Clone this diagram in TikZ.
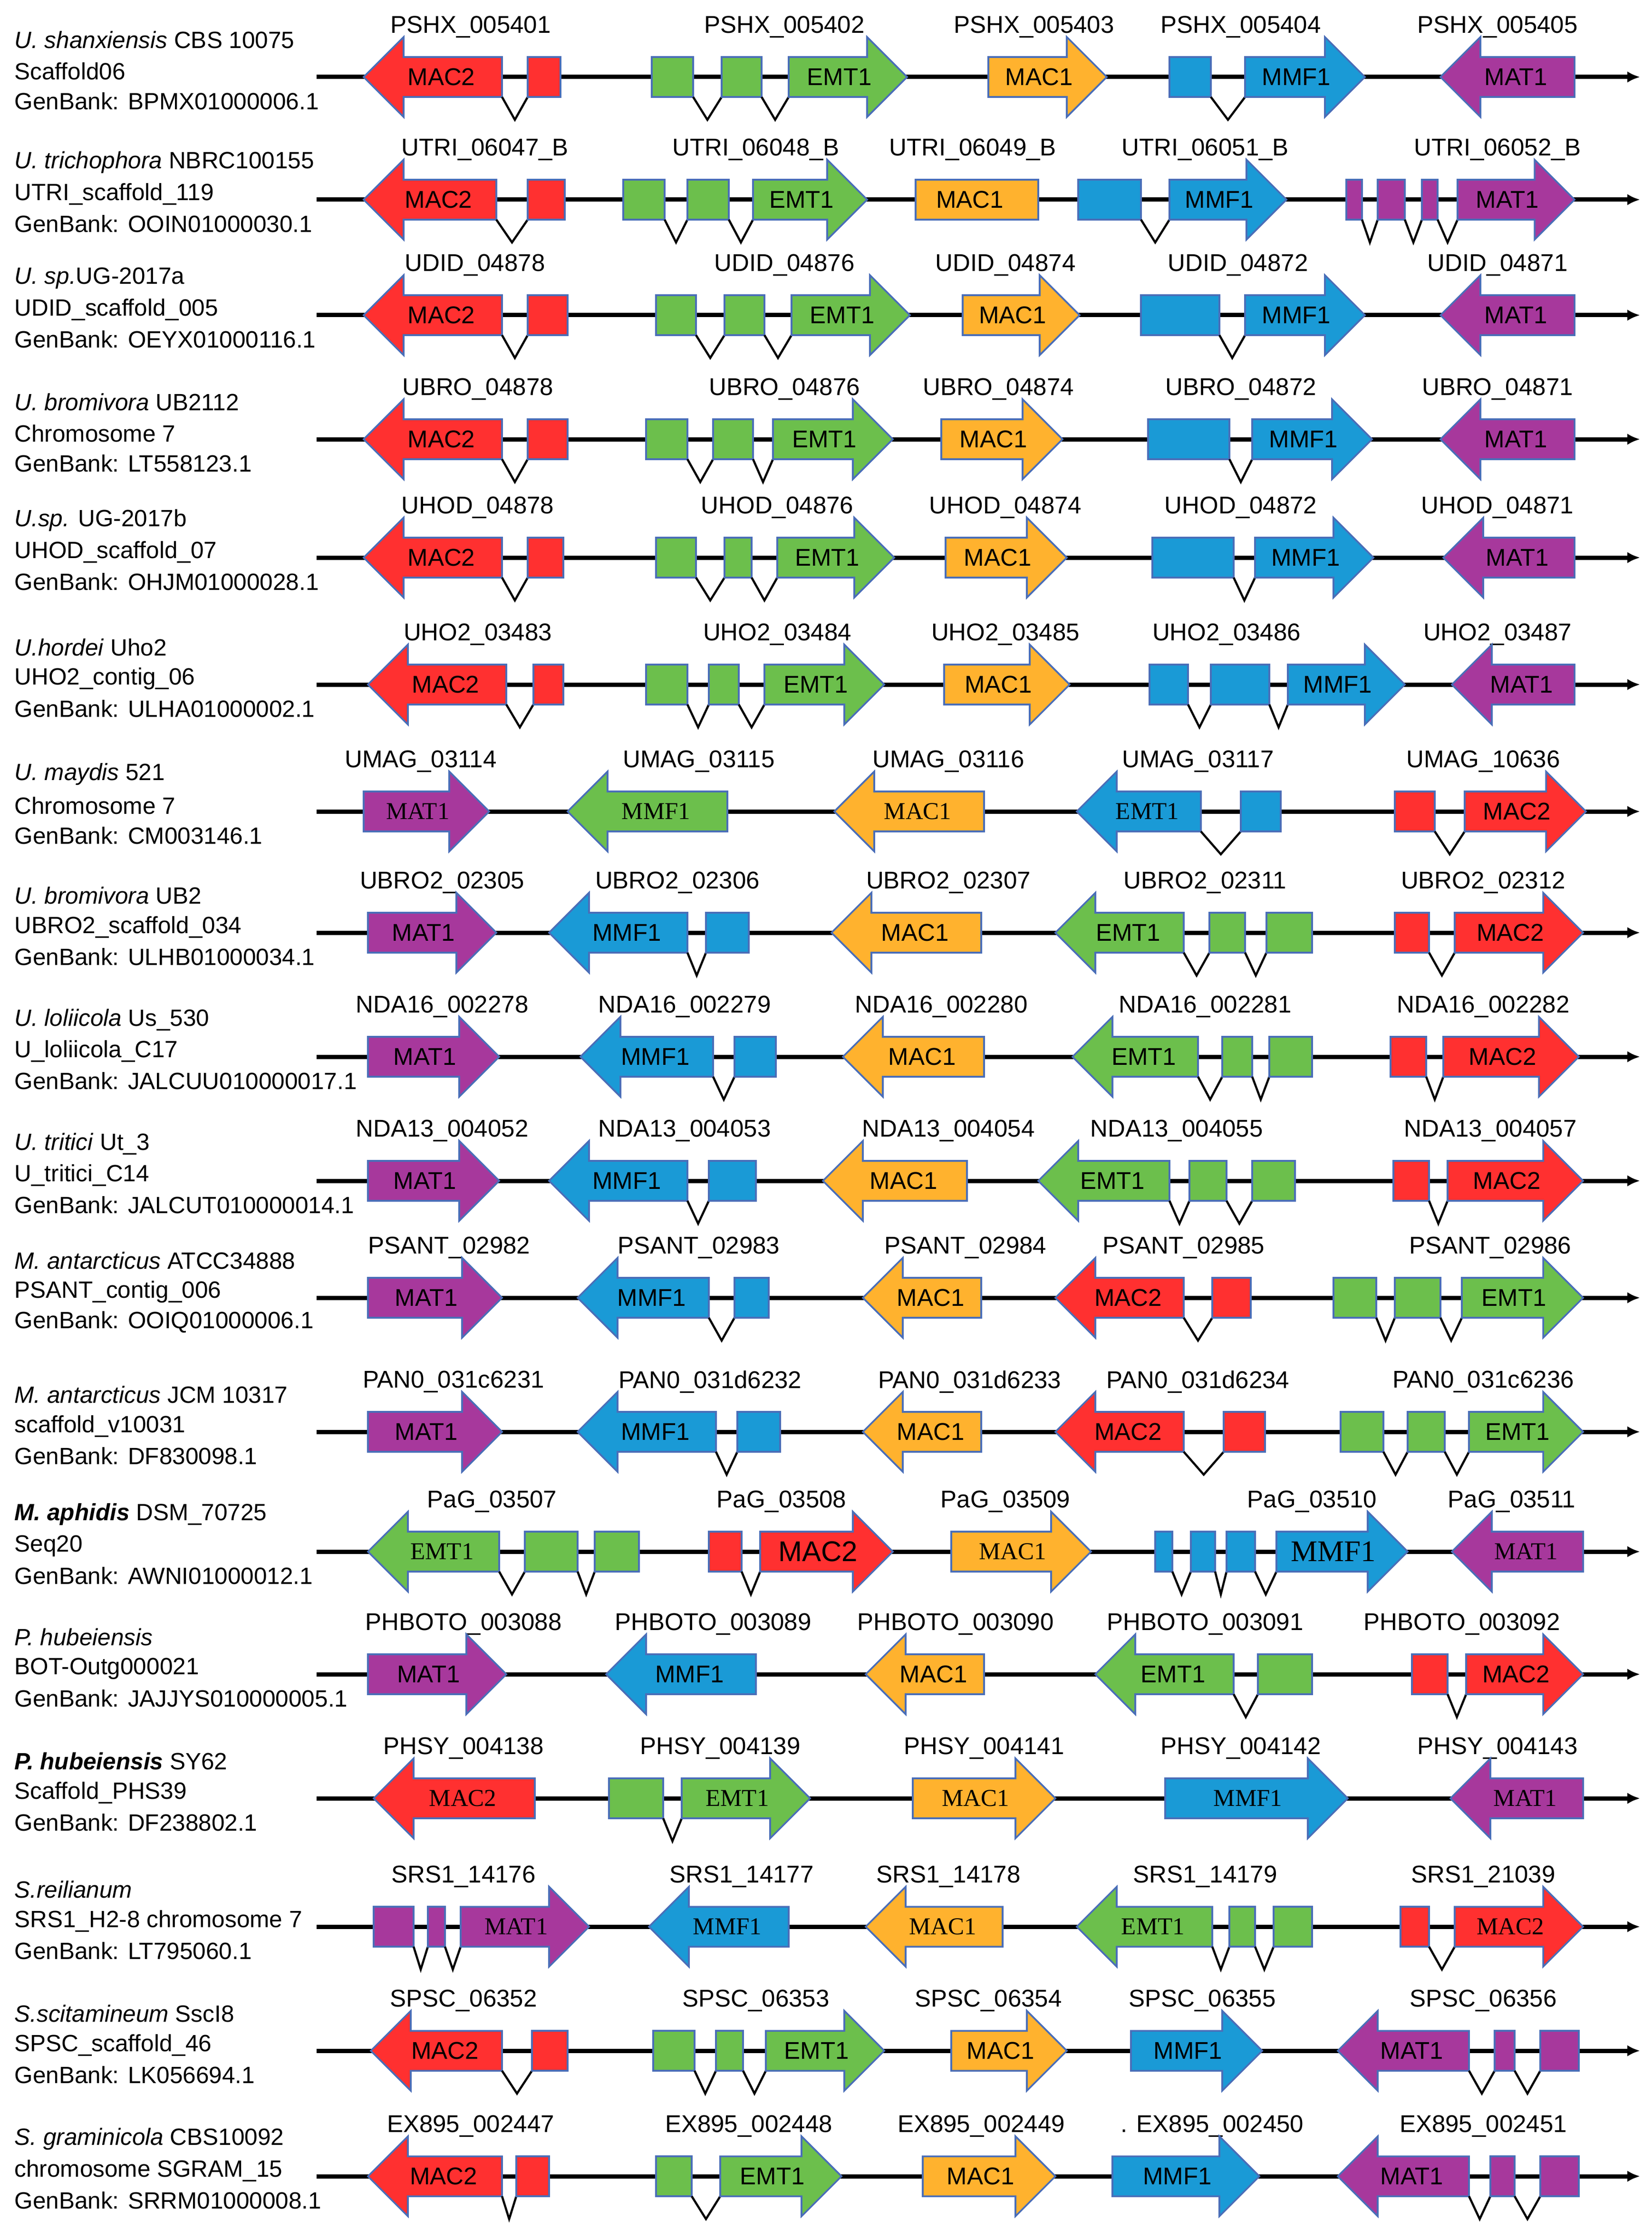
\documentclass[tikz,border=0pt]{standalone}
\usepackage{fontspec}
\setmainfont{Liberation Sans}
\newfontfamily\sr{Liberation Serif}
\usetikzlibrary{arrows.meta}
\definecolor{cR}{HTML}{FF3030}
\definecolor{cG}{HTML}{6CBF4C}
\definecolor{cO}{HTML}{FFB22E}
\definecolor{cB}{HTML}{1A9AD6}
\definecolor{cP}{HTML}{A7389C}
\definecolor{edgec}{HTML}{4A6EB8}
\tikzset{glab/.style={font=\fontsize{17}{18}\selectfont, inner sep=0pt},
 idlab/.style={font=\fontsize{17}{18}\selectfont, inner sep=0pt},
 sp/.style={font=\fontsize{16.5}{18}\selectfont, anchor=west, inner sep=0pt},
 backbone/.style={line width=3pt, -{Latex[length=9pt,width=8pt]}},
 shp/.style={draw=edgec, line width=1.2pt},
 intr/.style={line width=1.5pt, black}}
\newcommand\gR[5]{\filldraw[shp,fill=#4] (#1,#3-14) -- (#2-28,#3-14) -- (#2-28,#3-28) -- (#2,#3) -- (#2-28,#3+28) -- (#2-28,#3+14) -- (#1,#3+14) -- cycle;
 \node[glab] at ({(#1+#2-12)/2},#3) {#5};}
\newcommand\gL[5]{\filldraw[shp,fill=#4] (#2,#3-14) -- (#1+28,#3-14) -- (#1+28,#3-28) -- (#1,#3) -- (#1+28,#3+28) -- (#1+28,#3+14) -- (#2,#3+14) -- cycle;
 \node[glab] at ({(#1+#2+12)/2},#3) {#5};}
\newcommand\gB[4]{\filldraw[shp,fill=#4] (#1,#3-14) rectangle (#2,#3+14);}
\newcommand\gI[3]{\draw[intr] (#1,#3+14) -- ({(#1+#2)/2},#3+30) -- (#2,#3+14);}
\newcommand\row[4]{\draw[backbone] (222,#1) -- (1150,#1);
 \node[sp] at (10,#1-26) {#2}; \node[sp] at (10,#1-4) {#3}; \node[sp] at (10,#1+17) {#4};}
\newcommand\idn[3]{\node[idlab] at (#2,#1-35) {#3};}
\begin{document}
\begin{tikzpicture}[x=1pt,y=-1pt]
\useasboundingbox (0,0) rectangle (1158.3,1570);
% Row 1
\def\Y{54}
\row{\Y}{\textit{U. shanxiensis} CBS 10075}{Scaffold06}{GenBank: BPMX01000006.1}
\idn{\Y}{330}{PSHX\_005401}\idn{\Y}{550}{PSHX\_005402}\idn{\Y}{725}{PSHX\_005403}\idn{\Y}{870}{PSHX\_005404}\idn{\Y}{1050}{PSHX\_005405}
\gL{255}{352}{\Y}{cR}{MAC2}\gI{352}{370}{\Y}\gB{370}{393}{\Y}{cR}
\gB{457}{486}{\Y}{cG}\gI{486}{506}{\Y}\gB{506}{534}{\Y}{cG}\gI{534}{553}{\Y}\gR{553}{636}{\Y}{cG}{EMT1}
\gR{693}{776}{\Y}{cO}{MAC1}
\gB{820}{849}{\Y}{cB}\gI{849}{873}{\Y}\gR{873}{957}{\Y}{cB}{MMF1}
\gL{1010}{1104}{\Y}{cP}{MAT1}
% Row 2
\def\Y{140}
\row{\Y}{\textit{U. trichophora} NBRC100155}{UTRI\_scaffold\_119}{GenBank: OOIN01000030.1}
\idn{\Y}{340}{UTRI\_06047\_B}\idn{\Y}{530}{UTRI\_06048\_B}\idn{\Y}{682}{UTRI\_06049\_B}\idn{\Y}{845}{UTRI\_06051\_B}\idn{\Y}{1050}{UTRI\_06052\_B}
\gL{255}{348}{\Y}{cR}{MAC2}\gI{348}{370}{\Y}\gB{370}{396}{\Y}{cR}
\gB{437}{466}{\Y}{cG}\gI{466}{482}{\Y}\gB{482}{511}{\Y}{cG}\gI{511}{528}{\Y}\gR{528}{608}{\Y}{cG}{EMT1}
\gB{642}{728}{\Y}{cO}\node[glab] at (680,\Y) {MAC1};
\gB{756}{800}{\Y}{cB}\gI{800}{820}{\Y}\gR{820}{902}{\Y}{cB}{MMF1}
\gB{944}{955}{\Y}{cP}\gI{955}{966}{\Y}\gB{966}{985}{\Y}{cP}\gI{985}{997}{\Y}\gB{997}{1008}{\Y}{cP}\gI{1008}{1022}{\Y}\gR{1022}{1104}{\Y}{cP}{MAT1}
% Row 3
\def\Y{221}
\row{\Y}{\textit{U. sp.}UG-2017a}{UDID\_scaffold\_005}{GenBank: OEYX01000116.1}
\idn{\Y}{333}{UDID\_04878}\idn{\Y}{550}{UDID\_04876}\idn{\Y}{705}{UDID\_04874}\idn{\Y}{868}{UDID\_04872}\idn{\Y}{1050}{UDID\_04871}
\gL{255}{352}{\Y}{cR}{MAC2}\gI{352}{370}{\Y}\gB{370}{398}{\Y}{cR}
\gB{460}{488}{\Y}{cG}\gI{488}{508}{\Y}\gB{508}{536}{\Y}{cG}\gI{536}{555}{\Y}\gR{555}{638}{\Y}{cG}{EMT1}
\gR{675}{757}{\Y}{cO}{MAC1}
\gB{800}{855}{\Y}{cB}\gI{855}{873}{\Y}\gR{873}{957}{\Y}{cB}{MMF1}
\gL{1010}{1104}{\Y}{cP}{MAT1}
% Row 4
\def\Y{308}
\row{\Y}{\textit{U. bromivora} UB2112}{Chromosome 7}{GenBank: LT558123.1}
\idn{\Y}{335}{UBRO\_04878}\idn{\Y}{550}{UBRO\_04876}\idn{\Y}{700}{UBRO\_04874}\idn{\Y}{870}{UBRO\_04872}\idn{\Y}{1050}{UBRO\_04871}
\gL{255}{352}{\Y}{cR}{MAC2}\gI{352}{370}{\Y}\gB{370}{398}{\Y}{cR}
\gB{453}{482}{\Y}{cG}\gI{482}{500}{\Y}\gB{500}{528}{\Y}{cG}\gI{528}{542}{\Y}\gR{542}{626}{\Y}{cG}{EMT1}
\gR{660}{745}{\Y}{cO}{MAC1}
\gB{805}{862}{\Y}{cB}\gI{862}{878}{\Y}\gR{878}{962}{\Y}{cB}{MMF1}
\gL{1010}{1104}{\Y}{cP}{MAT1}
% Row 5
\def\Y{391}
\row{\Y}{\textit{U.sp.} UG-2017b}{UHOD\_scaffold\_07}{GenBank: OHJM01000028.1}
\idn{\Y}{335}{UHOD\_04878}\idn{\Y}{545}{UHOD\_04876}\idn{\Y}{705}{UHOD\_04874}\idn{\Y}{870}{UHOD\_04872}\idn{\Y}{1050}{UHOD\_04871}
\gL{255}{352}{\Y}{cR}{MAC2}\gI{352}{370}{\Y}\gB{370}{395}{\Y}{cR}
\gB{460}{488}{\Y}{cG}\gI{488}{508}{\Y}\gB{508}{527}{\Y}{cG}\gI{527}{545}{\Y}\gR{545}{627}{\Y}{cG}{EMT1}
\gR{663}{748}{\Y}{cO}{MAC1}
\gB{808}{865}{\Y}{cB}\gI{865}{880}{\Y}\gR{880}{963}{\Y}{cB}{MMF1}
\gL{1012}{1104}{\Y}{cP}{MAT1}
% Row 6
\def\Y{480}
\row{\Y}{\textit{U.hordei} Uho2}{UHO2\_contig\_06}{GenBank: ULHA01000002.1}
\idn{\Y}{335}{UHO2\_03483}\idn{\Y}{545}{UHO2\_03484}\idn{\Y}{705}{UHO2\_03485}\idn{\Y}{860}{UHO2\_03486}\idn{\Y}{1050}{UHO2\_03487}
\gL{258}{355}{\Y}{cR}{MAC2}\gI{355}{374}{\Y}\gB{374}{395}{\Y}{cR}
\gB{453}{482}{\Y}{cG}\gI{482}{497}{\Y}\gB{497}{518}{\Y}{cG}\gI{518}{536}{\Y}\gR{536}{620}{\Y}{cG}{EMT1}
\gR{662}{750}{\Y}{cO}{MAC1}
\gB{806}{833}{\Y}{cB}\gI{833}{849}{\Y}\gB{849}{890}{\Y}{cB}\gI{890}{903}{\Y}\gR{903}{985}{\Y}{cB}{MMF1}
\gL{1018}{1104}{\Y}{cP}{MAT1}
% Row 7
\def\Y{569}
\row{\Y}{\textit{U. maydis} 521}{Chromosome 7}{GenBank: CM003146.1}
\idn{\Y}{295}{UMAG\_03114}\idn{\Y}{490}{UMAG\_03115}\idn{\Y}{665}{UMAG\_03116}\idn{\Y}{840}{UMAG\_03117}\idn{\Y}{1040}{UMAG\_10636}
\gR{255}{343}{\Y}{cP}{\sr MAT1}
\gL{398}{510}{\Y}{cG}{\sr MMF1}
\gL{585}{690}{\Y}{cO}{\sr MAC1}
\gL{755}{842}{\Y}{cB}{\sr EMT1}\gI{842}{870}{\Y}\gB{870}{898}{\Y}{cB}
\gB{978}{1006}{\Y}{cR}\gI{1006}{1027}{\Y}\gR{1027}{1112}{\Y}{cR}{MAC2}
% Row 8
\def\Y{654}
\row{\Y}{\textit{U. bromivora} UB2}{UBRO2\_scaffold\_034}{GenBank: ULHB01000034.1}
\idn{\Y}{310}{UBRO2\_02305}\idn{\Y}{475}{UBRO2\_02306}\idn{\Y}{665}{UBRO2\_02307}\idn{\Y}{845}{UBRO2\_02311}\idn{\Y}{1040}{UBRO2\_02312}
\gR{258}{348}{\Y}{cP}{MAT1}
\gL{385}{482}{\Y}{cB}{MMF1}\gI{482}{495}{\Y}\gB{495}{525}{\Y}{cB}
\gL{583}{688}{\Y}{cO}{MAC1}
\gL{740}{830}{\Y}{cG}{EMT1}\gI{830}{848}{\Y}\gB{848}{873}{\Y}{cG}\gI{873}{888}{\Y}\gB{888}{920}{\Y}{cG}
\gB{978}{1002}{\Y}{cR}\gI{1002}{1020}{\Y}\gR{1020}{1110}{\Y}{cR}{MAC2}
% Row 9
\def\Y{741}
\row{\Y}{\textit{U. loliicola} Us\_530}{U\_loliicola\_C17}{GenBank: JALCUU010000017.1}
\idn{\Y}{310}{NDA16\_002278}\idn{\Y}{480}{NDA16\_002279}\idn{\Y}{660}{NDA16\_002280}\idn{\Y}{845}{NDA16\_002281}\idn{\Y}{1040}{NDA16\_002282}
\gR{258}{350}{\Y}{cP}{MAT1}
\gL{407}{500}{\Y}{cB}{MMF1}\gI{500}{515}{\Y}\gB{515}{544}{\Y}{cB}
\gL{591}{690}{\Y}{cO}{MAC1}
\gL{752}{840}{\Y}{cG}{EMT1}\gI{840}{857}{\Y}\gB{857}{878}{\Y}{cG}\gI{878}{890}{\Y}\gB{890}{920}{\Y}{cG}
\gB{975}{1000}{\Y}{cR}\gI{1000}{1012}{\Y}\gR{1012}{1107}{\Y}{cR}{MAC2}
% Row 10
\def\Y{828}
\row{\Y}{\textit{U. tritici} Ut\_3}{U\_tritici\_C14}{GenBank: JALCUT010000014.1}
\idn{\Y}{310}{NDA13\_004052}\idn{\Y}{480}{NDA13\_004053}\idn{\Y}{665}{NDA13\_004054}\idn{\Y}{825}{NDA13\_004055}\idn{\Y}{1045}{NDA13\_004057}
\gR{258}{350}{\Y}{cP}{MAT1}
\gL{385}{482}{\Y}{cB}{MMF1}\gI{482}{497}{\Y}\gB{497}{530}{\Y}{cB}
\gL{577}{678}{\Y}{cO}{MAC1}
\gL{728}{820}{\Y}{cG}{EMT1}\gI{820}{834}{\Y}\gB{834}{860}{\Y}{cG}\gI{860}{878}{\Y}\gB{878}{908}{\Y}{cG}
\gB{977}{1002}{\Y}{cR}\gI{1002}{1015}{\Y}\gR{1015}{1110}{\Y}{cR}{MAC2}
% Row 11
\def\Y{910}
\row{\Y}{\textit{M. antarcticus} ATCC34888}{PSANT\_contig\_006}{GenBank: OOIQ01000006.1}
\idn{\Y}{315}{PSANT\_02982}\idn{\Y}{490}{PSANT\_02983}\idn{\Y}{677}{PSANT\_02984}\idn{\Y}{830}{PSANT\_02985}\idn{\Y}{1045}{PSANT\_02986}
\gR{258}{352}{\Y}{cP}{MAT1}
\gL{405}{497}{\Y}{cB}{MMF1}\gI{497}{515}{\Y}\gB{515}{539}{\Y}{cB}
\gL{605}{688}{\Y}{cO}{MAC1}
\gL{740}{830}{\Y}{cR}{MAC2}\gI{830}{850}{\Y}\gB{850}{877}{\Y}{cR}
\gB{935}{965}{\Y}{cG}\gI{965}{978}{\Y}\gB{978}{1010}{\Y}{cG}\gI{1010}{1025}{\Y}\gR{1025}{1110}{\Y}{cG}{EMT1}
% Row 12
\def\Y{1004}
\row{\Y}{\textit{M. antarcticus} JCM 10317}{scaffold\_v10031}{GenBank: DF830098.1}
\idn{\Y}{318}{PAN0\_031c6231}\idn{\Y}{498}{PAN0\_031d6232}\idn{\Y}{680}{PAN0\_031d6233}\idn{\Y}{840}{PAN0\_031d6234}\idn{\Y}{1040}{PAN0\_031c6236}
\gR{258}{352}{\Y}{cP}{MAT1}
\gL{405}{502}{\Y}{cB}{MMF1}\gI{502}{517}{\Y}\gB{517}{547}{\Y}{cB}
\gL{605}{688}{\Y}{cO}{MAC1}
\gL{740}{830}{\Y}{cR}{MAC2}\gI{830}{858}{\Y}\gB{858}{887}{\Y}{cR}
\gB{940}{970}{\Y}{cG}\gI{970}{987}{\Y}\gB{987}{1013}{\Y}{cG}\gI{1013}{1030}{\Y}\gR{1030}{1110}{\Y}{cG}{EMT1}
% Row 13
\def\Y{1088}
\row{\Y}{\textbf{\textit{M. aphidis}} DSM\_70725}{Seq20}{GenBank: AWNI01000012.1}
\idn{\Y}{345}{PaG\_03507}\idn{\Y}{548}{PaG\_03508}\idn{\Y}{705}{PaG\_03509}\idn{\Y}{920}{PaG\_03510}\idn{\Y}{1060}{PaG\_03511}
\gL{258}{350}{\Y}{cG}{\sr EMT1}\gI{350}{368}{\Y}\gB{368}{405}{\Y}{cG}\gI{405}{417}{\Y}\gB{417}{448}{\Y}{cG}
\gB{497}{520}{\Y}{cR}\gI{520}{533}{\Y}\gR{533}{626}{\Y}{cR}{\fontsize{20}{22}\selectfont MAC2}
\gR{667}{765}{\Y}{cO}{\sr MAC1}
\gB{810}{822}{\Y}{cB}\gI{822}{835}{\Y}\gB{835}{852}{\Y}{cB}\gI{852}{860}{\Y}\gB{860}{880}{\Y}{cB}\gI{880}{895}{\Y}\gR{895}{987}{\Y}{cB}{\sr\fontsize{21}{22}\selectfont MMF1}
\gL{1018}{1110}{\Y}{cP}{\sr MAT1}
% Row 14
\def\Y{1174}
\row{\Y}{\textit{P. hubeiensis}}{BOT-Outg000021}{GenBank: JAJJYS010000005.1}
\idn{\Y}{325}{PHBOTO\_003088}\idn{\Y}{500}{PHBOTO\_003089}\idn{\Y}{670}{PHBOTO\_003090}\idn{\Y}{845}{PHBOTO\_003091}\idn{\Y}{1025}{PHBOTO\_003092}
\gR{258}{355}{\Y}{cP}{MAT1}
\gL{425}{530}{\Y}{cB}{MMF1}
\gL{607}{690}{\Y}{cO}{MAC1}
\gL{768}{865}{\Y}{cG}{EMT1}\gI{865}{882}{\Y}\gB{882}{920}{\Y}{cG}
\gB{990}{1015}{\Y}{cR}\gI{1015}{1028}{\Y}\gR{1028}{1110}{\Y}{cR}{MAC2}
% Row 15
\def\Y{1261}
\row{\Y}{\textbf{\textit{P. hubeiensis}} SY62}{Scaffold\_PHS39}{GenBank: DF238802.1}
\idn{\Y}{325}{PHSY\_004138}\idn{\Y}{505}{PHSY\_004139}\idn{\Y}{690}{PHSY\_004141}\idn{\Y}{870}{PHSY\_004142}\idn{\Y}{1050}{PHSY\_004143}
\gL{262}{375}{\Y}{cR}{\sr MAC2}
\gB{427}{465}{\Y}{cG}\gI{465}{478}{\Y}\gR{478}{568}{\Y}{cG}{\sr EMT1}
\gR{640}{740}{\Y}{cO}{\sr MAC1}
\gR{817}{945}{\Y}{cB}{\sr MMF1}
\gL{1017}{1110}{\Y}{cP}{\sr MAT1}
% Row 16
\def\Y{1351}
\row{\Y}{\textit{S.reilianum}}{SRS1\_H2-8 chromosome 7}{GenBank: LT795060.1}
\idn{\Y}{325}{SRS1\_14176}\idn{\Y}{520}{SRS1\_14177}\idn{\Y}{665}{SRS1\_14178}\idn{\Y}{845}{SRS1\_14179}\idn{\Y}{1040}{SRS1\_21039}
\gB{262}{290}{\Y}{cP}\gI{290}{300}{\Y}\gB{300}{312}{\Y}{cP}\gI{312}{323}{\Y}\gR{323}{413}{\Y}{cP}{\sr MAT1}
\gL{455}{553}{\Y}{cB}{\sr MMF1}
\gL{607}{703}{\Y}{cO}{\sr MAC1}
\gL{755}{850}{\Y}{cG}{\sr EMT1}\gI{850}{862}{\Y}\gB{862}{880}{\Y}{cG}\gI{880}{893}{\Y}\gB{893}{920}{\Y}{cG}
\gB{982}{1002}{\Y}{cR}\gI{1002}{1020}{\Y}\gR{1020}{1110}{\Y}{cR}{\sr MAC2}
% Row 17
\def\Y{1438}
\row{\Y}{\textit{S.scitamineum} SscI8}{SPSC\_scaffold\_46}{GenBank: LK056694.1}
\idn{\Y}{325}{SPSC\_06352}\idn{\Y}{530}{SPSC\_06353}\idn{\Y}{693}{SPSC\_06354}\idn{\Y}{843}{SPSC\_06355}\idn{\Y}{1040}{SPSC\_06356}
\gL{260}{352}{\Y}{cR}{MAC2}\gI{352}{373}{\Y}\gB{373}{398}{\Y}{cR}
\gB{458}{487}{\Y}{cG}\gI{487}{502}{\Y}\gB{502}{521}{\Y}{cG}\gI{521}{537}{\Y}\gR{537}{620}{\Y}{cG}{EMT1}
\gR{667}{748}{\Y}{cO}{MAC1}
\gR{793}{885}{\Y}{cB}{MMF1}
\gL{938}{1030}{\Y}{cP}{MAT1}\gI{1030}{1048}{\Y}\gB{1048}{1062}{\Y}{cP}\gI{1062}{1080}{\Y}\gB{1080}{1107}{\Y}{cP}
% Row 18
\def\Y{1526}
\row{\Y}{\textit{S. graminicola} CBS10092}{chromosome SGRAM\_15}{GenBank: SRRM01000008.1}
\idn{\Y}{330}{EX895\_002447}\idn{\Y}{525}{EX895\_002448}\idn{\Y}{688}{EX895\_002449}\idn{\Y}{850}{. EX895\_002450}\idn{\Y}{1040}{EX895\_002451}
\gL{258}{352}{\Y}{cR}{MAC2}\gI{352}{362}{\Y}\gB{362}{385}{\Y}{cR}
\gB{460}{485}{\Y}{cG}\gI{485}{505}{\Y}\gR{505}{590}{\Y}{cG}{EMT1}
\gR{647}{740}{\Y}{cO}{MAC1}
\gR{780}{883}{\Y}{cB}{MMF1}
\gL{938}{1030}{\Y}{cP}{MAT1}\gI{1030}{1045}{\Y}\gB{1045}{1062}{\Y}{cP}\gI{1062}{1080}{\Y}\gB{1080}{1107}{\Y}{cP}
\end{tikzpicture}
\end{document}
